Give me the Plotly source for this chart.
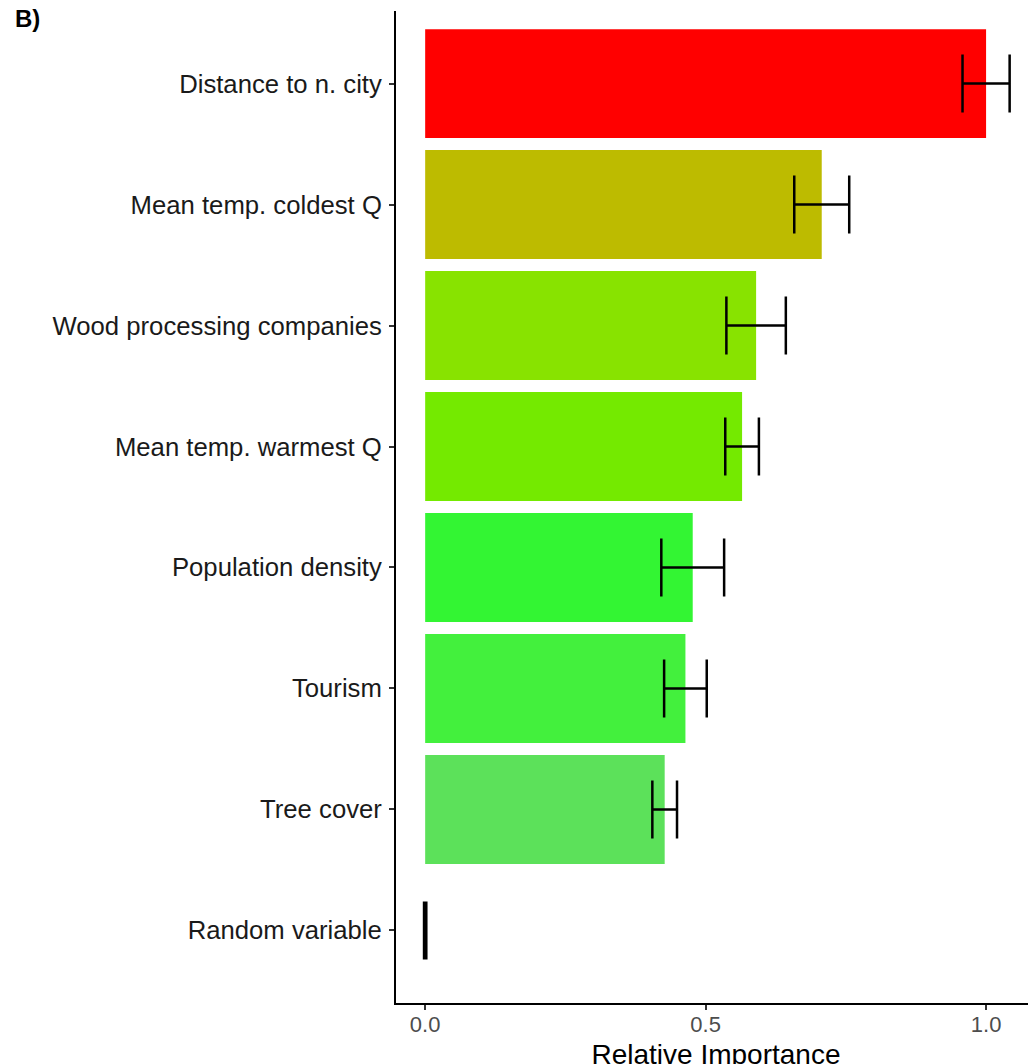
import plotly.graph_objects as go

categories = ["Distance to n. city", "Mean temp. coldest Q", "Wood processing companies",
              "Mean temp. warmest Q", "Population density", "Tourism", "Tree cover",
              "Random variable"]
importance = [1.000, 0.707, 0.590, 0.565, 0.477, 0.464, 0.427, 0.000]
errors = [0.042, 0.049, 0.053, 0.030, 0.056, 0.038, 0.022, 0.002]
colors = ["#FF0000", "#BDBB00", "#88E300", "#74EA00", "#33F533", "#43F03D", "#5CE15A", "#5CE15A"]
x_ticks = [0.0, 0.5, 1.0]
x_tick_labels = ["0.0", "0.5", "1.0"]

W, H = 1036, 1064
# page body has an 8px offset; margins are in figure coordinates
ML, MR, MT, MB = 388, 8, 3, 69
FONT = "Liberation Sans, Arial, sans-serif"

fig = go.Figure()
fig.add_trace(go.Bar(
    x=importance, y=categories, orientation="h",
    marker=dict(color=colors, line=dict(width=0)),
    width=0.9,
    error_x=dict(type="data", array=errors, visible=True,
                 color="black", thickness=2.5, width=29),
    showlegend=False,
))

fig.update_layout(
    width=W, height=H,
    margin=dict(l=ML, r=MR, t=MT, b=MB, pad=0),
    plot_bgcolor="white", paper_bgcolor="white",
    font=dict(family=FONT, color="black"),
    bargap=0.1,
    xaxis=dict(
        range=[-0.052, 1.089], tickvals=x_ticks, ticktext=x_tick_labels,
        showline=True, linecolor="black", linewidth=2, mirror=False,
        ticks="outside", ticklen=5, tickwidth=1.5, tickcolor="#333333",
        tickfont=dict(size=22, color="#4D4D4D", family=FONT),
        ticklabelstandoff=-4,
        showgrid=False, zeroline=False,
        title=dict(text="Relative Importance", font=dict(size=28, color="black", family=FONT), standoff=8),
    ),
    yaxis=dict(
        categoryorder="array", categoryarray=list(reversed(categories)),
        range=[-0.6, 7.6],
        showline=True, linecolor="black", linewidth=2,
        ticks="outside", ticklen=5, tickwidth=1.5, tickcolor="#333333",
        tickfont=dict(size=25.7, color="#1A1A1A", family=FONT),
        ticklabelstandoff=2,
        showgrid=False, zeroline=False,
    ),
    annotations=[dict(
        text="<b>B)</b>", xref="paper", yref="paper",
        x=(5 - ML) / (W - ML - MR), y=1 + (MT - 11) / (H - MT - MB),
        xanchor="left", yanchor="middle", showarrow=False,
        font=dict(size=24, color="black", family=FONT),
    )],
)

fig.write_html("out.html")
